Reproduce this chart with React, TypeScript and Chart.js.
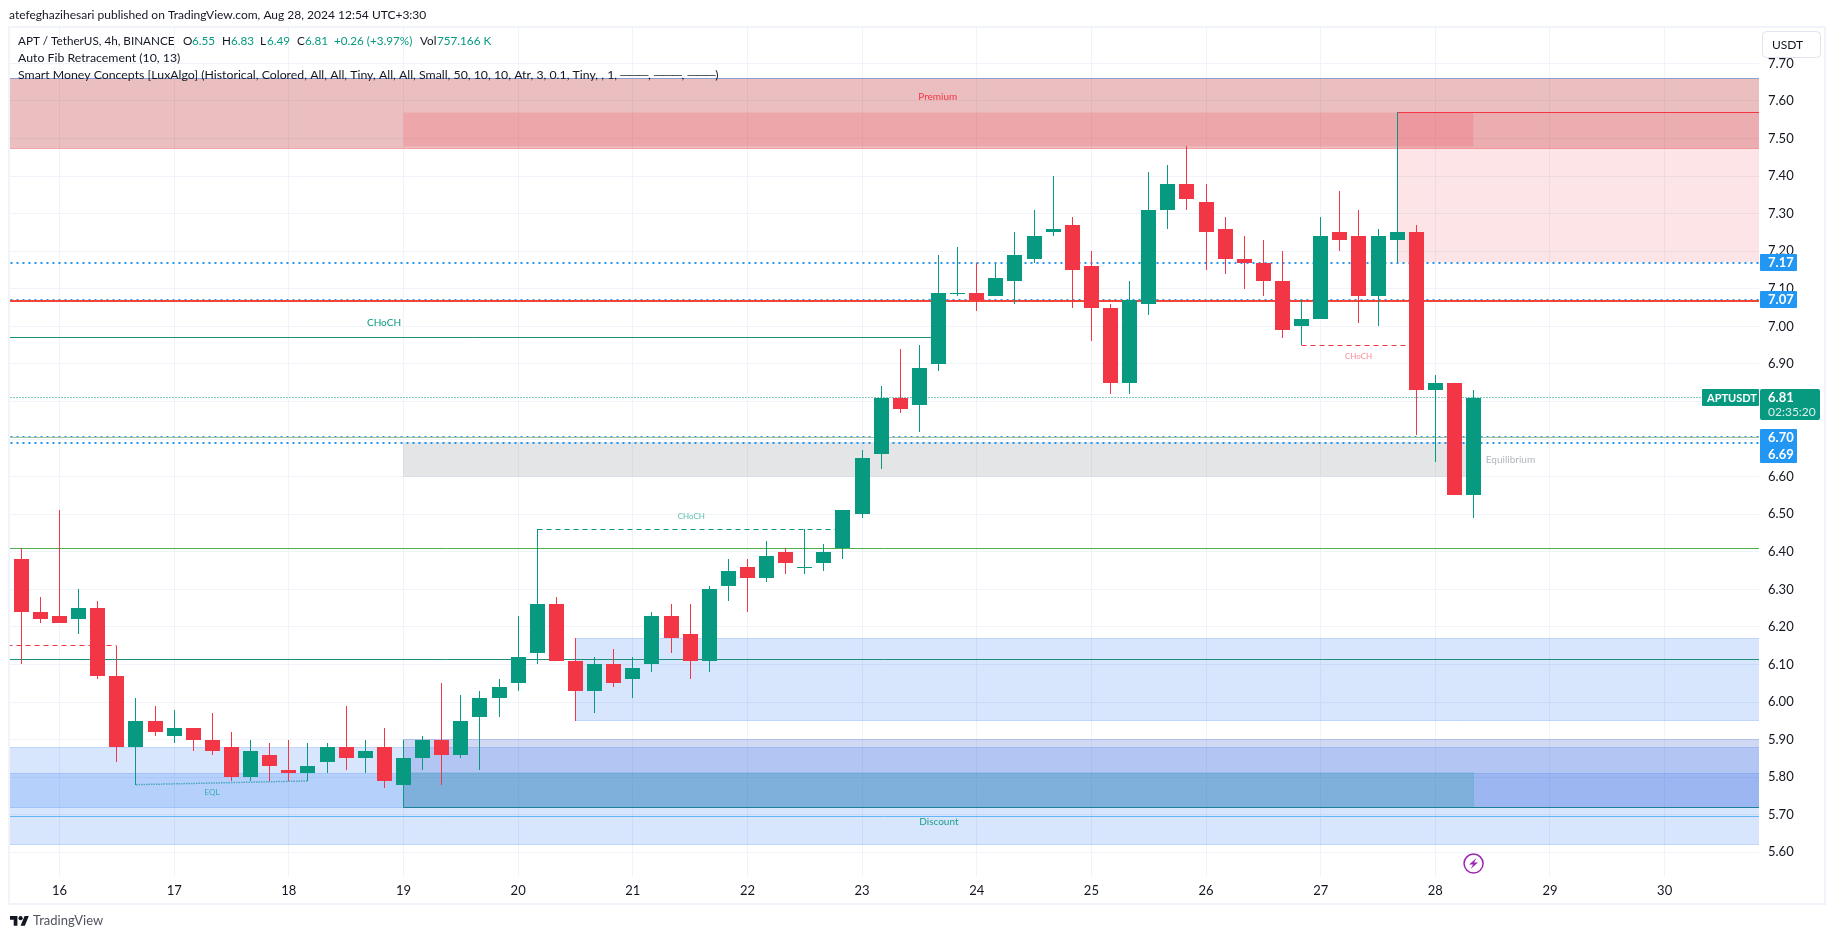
import React, { useEffect, useRef } from "react";
import { Chart, registerables } from "chart.js";

Chart.register(...registerables);

// ---------- data ----------
const candleOpen = [6.38,6.24,6.23,6.22,6.25,6.07,5.88,5.95,5.91,5.93,5.90,5.88,5.80,5.86,5.82,5.81,5.84,5.88,5.85,5.88,5.78,5.85,5.90,5.86,5.96,6.01,6.05,6.13,6.26,6.11,6.03,6.10,6.06,6.10,6.23,6.18,6.11,6.31,6.36,6.33,6.40,6.36,6.37,6.41,6.50,6.66,6.81,6.79,6.90,7.09,7.09,7.08,7.12,7.18,7.25,7.27,7.16,7.05,6.85,7.06,7.31,7.38,7.33,7.26,7.18,7.17,7.12,7.00,7.02,7.25,7.24,7.08,7.23,7.25,6.83,6.85,6.55];
const candleHigh = [6.41,6.28,6.51,6.30,6.27,6.15,6.01,5.99,5.98,5.93,5.97,5.92,5.90,5.89,5.90,5.89,5.89,5.99,5.90,5.93,5.90,5.91,6.05,6.02,6.03,6.06,6.23,6.46,6.28,6.17,6.12,6.14,6.12,6.24,6.26,6.26,6.31,6.38,6.38,6.43,6.41,6.46,6.42,6.51,6.67,6.84,6.94,6.95,7.19,7.21,7.17,7.17,7.25,7.31,7.40,7.29,7.20,7.06,7.12,7.41,7.43,7.48,7.38,7.29,7.24,7.23,7.20,7.07,7.29,7.36,7.31,7.26,7.57,7.27,6.87,6.85,6.83];
const candleLow = [6.10,6.21,6.21,6.18,6.06,5.84,5.78,5.91,5.89,5.87,5.86,5.79,5.79,5.79,5.79,5.79,5.81,5.82,5.81,5.77,5.72,5.82,5.78,5.85,5.82,5.96,6.03,6.10,6.11,5.95,5.97,6.04,6.01,6.08,6.13,6.06,6.08,6.27,6.24,6.32,6.34,6.34,6.35,6.38,6.49,6.62,6.77,6.72,6.88,7.08,7.04,7.08,7.06,7.17,7.24,7.05,6.96,6.82,6.82,7.03,7.26,7.31,7.15,7.14,7.10,7.08,6.97,6.95,7.02,7.20,7.01,7.00,7.17,6.71,6.64,6.55,6.49];
const candleClose = [6.24,6.22,6.21,6.25,6.07,5.88,5.95,5.92,5.93,5.90,5.87,5.80,5.87,5.83,5.81,5.83,5.88,5.85,5.87,5.79,5.85,5.90,5.86,5.95,6.01,6.04,6.12,6.26,6.11,6.03,6.10,6.05,6.09,6.23,6.17,6.11,6.30,6.35,6.33,6.39,6.37,6.36,6.40,6.51,6.65,6.81,6.78,6.89,7.09,7.09,7.07,7.13,7.19,7.24,7.26,7.15,7.05,6.85,7.07,7.31,7.38,7.34,7.25,7.18,7.17,7.12,6.99,7.02,7.24,7.23,7.08,7.24,7.25,6.83,6.85,6.55,6.81];
const candleDown = [1,1,1,0,1,1,0,1,0,1,1,1,0,1,1,0,0,1,0,1,0,0,1,0,0,0,0,0,1,1,0,1,0,0,1,1,0,0,1,0,1,0,0,0,0,0,1,0,0,0,1,0,0,0,0,1,1,1,0,0,0,1,1,1,1,1,1,0,0,1,1,0,0,1,0,1,0];

const dayTicks = [16,17,18,19,20,21,22,23,24,25,26,27,28,29,30];
const priceTicks = [5.6,5.7,5.8,5.9,6.0,6.1,6.2,6.3,6.4,6.5,6.6,6.7,6.8,6.9,7.0,7.1,7.2,7.3,7.4,7.5,7.6,7.7];

const FIRST_CANDLE_DAY = 15 + 2 / 3;
const BARS_PER_DAY = 6;
const dayOfCandle = (i: number) => FIRST_CANDLE_DAY + i / BARS_PER_DAY;
const OFF_LEFT = 15;
const OFF_RIGHT = 32;
const LAST_DAY = dayOfCandle(76);

// zones: [from day, to day, low, high]
const premiumRange = [OFF_LEFT, OFF_RIGHT, 7.473, 7.66];
const premiumBlock = [19, LAST_DAY, 7.478, 7.57];
const supplyBox = [dayOfCandle(72), OFF_RIGHT, 7.17, 7.57];
const equilibriumBlock = [19, LAST_DAY, 6.6, 6.69];
const demandMiddle = [dayOfCandle(29), OFF_RIGHT, 5.95, 6.17];
const demandLowA = [OFF_LEFT, OFF_RIGHT, 5.72, 5.88];
const demandLowB = [OFF_LEFT, OFF_RIGHT, 5.62, 5.81];
const discountBox = [19, OFF_RIGHT, 5.72, 5.90];
const discountBlock = [19, LAST_DAY, 5.72, 5.812];

// levels
const fibTop = 7.66;
const resistanceRed = 7.068;
const fibGreen = 6.41;
const fibTeal = 6.113;
const fibBlue = 5.696;
const fibSage = 6.705;
const dottedLevels = [7.17, 7.07, 6.705, 6.69];
const lastPrice = 6.811;
const chochUp = 6.971;
const chochDashedHigh = 6.46;
const chochDashedLow = 6.95;
const oldDashed = 6.15;
const supplyTop = 7.57;
const discountBottom = 5.72;
const eqlPrices = [5.78, 5.79];

const chartTexts = [
  { text: "Premium", day: 23.66, price: 7.61, color: "#f23645", size: 10, align: "center" },
  { text: "Discount", day: 23.67, price: 5.68, color: "#1fa08c", size: 10, align: "center" },
  { text: "Equilibrium", day: 28.44, price: 6.644, color: "#b2b5be", size: 10, align: "left" },
  { text: "CHoCH", day: 18.83, price: 7.01, color: "#089981", size: 10, align: "center" },
  { text: "CHoCH", day: 21.51, price: 6.493, color: "#5cbfae", size: 8, align: "center" },
  { text: "CHoCH", day: 27.33, price: 6.919, color: "#f98b95", size: 8, align: "center" },
  { text: "EQL", day: 17.33, price: 5.759, color: "#35aeb0", size: 8, align: "center" },
];

const headerText = "atefeghazihesari published on TradingView.com, Aug 28, 2024 12:54 UTC+3:30";
const legendLine1 = [
  { t: "APT / TetherUS, 4h, BINANCE", x: 18, up: false },
  { t: "O", x: 183, up: false }, { t: "6.55", x: 192, up: true },
  { t: "H", x: 222, up: false }, { t: "6.83", x: 231, up: true },
  { t: "L", x: 260, up: false }, { t: "6.49", x: 267, up: true },
  { t: "C", x: 297, up: false }, { t: "6.81", x: 305, up: true },
  { t: "+0.26 (+3.97%)", x: 334, up: true },
  { t: "Vol", x: 420, up: false }, { t: "757.166 K", x: 437, up: true },
];
const legendLine2 = "Auto Fib Retracement (10, 13)";
const legendLine3 = "Smart Money Concepts [LuxAlgo] (Historical, Colored, All, All, Tiny, All, All, Small, 50, 10, 10, Atr, 3, 0.1, Tiny, , 1, ───, ───, ───)";
const timerText = "02:35:20";

const FONT = 'Lato, sans-serif';
const GREEN = "#089981";
const RED = "#f23645";
const BLUE = "#2196f3";
const GRID = "#f0f3fa";
const TEXT = "#131722";

const hLine = (label: string, from: number, to: number, price: number, color: string, width: number, dash: number[] = []) => ({
  type: "line", label, order: 3, clip: 0, data: [{ x: from, y: price }, { x: to, y: price }],
  borderColor: color, borderWidth: width, borderDash: dash, pointRadius: 0, pointHoverRadius: 0, fill: false, tension: 0, snapWidth: width,
});

const zone = (label: string, z: number[], fillColor: string, border: string, order: number) => ({
  type: "line", label, order, clip: 0,
  data: [{ x: z[0], y: z[3] }, { x: z[1], y: z[3] }, { x: z[1], y: z[2] }, { x: z[0], y: z[2] }, { x: z[0], y: z[3] }],
  borderColor: border, borderWidth: 1, backgroundColor: fillColor, fill: "shape", pointRadius: 0, pointHoverRadius: 0, tension: 0, snapWidth: 1,
});

const snapPlugin = {
  id: "snap",
  afterDatasetsUpdate(chart: any) {
    chart.data.datasets.forEach((ds: any, di: number) => {
      const meta = chart.getDatasetMeta(di);
      if (ds.type === "bar") {
        meta.data.forEach((el: any) => {
          el.x = Math.floor(el.x) + 0.5;
          let top = Math.round(Math.min(el.y, el.base));
          let bot = Math.round(Math.max(el.y, el.base));
          if (bot === top) bot = top + 1;
          el.y = top;
          el.base = bot;
        });
      } else if (ds.snapWidth) {
        meta.data.forEach((el: any) => {
          if (ds.snapWidth % 2 === 1) el.y = Math.floor(el.y) + 0.5;
          else el.y = Math.round(el.y);
          el.x = Math.floor(el.x) + 0.5;
        });
      }
    });
  },
};

const roundRect = (ctx: CanvasRenderingContext2D, x: number, y: number, w: number, h: number, r: number) => {
  ctx.beginPath();
  ctx.roundRect(x, y, w, h, r);
};

const overlayPlugin = {
  id: "overlay",
  afterDraw(chart: any) {
    const ctx: CanvasRenderingContext2D = chart.ctx;
    const xs = chart.scales.x;
    const ys = chart.scales.y;
    ctx.save();

    // frame
    ctx.fillStyle = GRID;
    ctx.fillRect(8, 26, 1818, 2);
    ctx.fillRect(8, 26, 2, 879);
    ctx.fillRect(1824, 26, 2, 879);
    ctx.fillRect(8, 903, 1818, 2);

    ctx.textBaseline = "middle";
    ctx.textAlign = "left";

    // header + legend
    ctx.font = `12px ${FONT}`;
    ctx.fillStyle = TEXT;
    ctx.fillText(headerText, 9, 15);
    ctx.font = `11.7px ${FONT}`;
    legendLine1.forEach((p) => {
      ctx.fillStyle = p.up ? GREEN : TEXT;
      ctx.fillText(p.t, p.x, 41);
    });
    ctx.font = `12.3px ${FONT}`;
    ctx.fillStyle = TEXT;
    ctx.fillText(legendLine2, 18, 58.5);
    ctx.fillText(legendLine3, 18, 75.5);

    // texts on the chart
    chartTexts.forEach((t) => {
      ctx.font = `${t.size}px ${FONT}`;
      ctx.fillStyle = t.color;
      ctx.textAlign = t.align as CanvasTextAlign;
      ctx.fillText(t.text, xs.getPixelForValue(t.day), ys.getPixelForValue(t.price));
    });
    ctx.textAlign = "left";

    // currency box
    ctx.fillStyle = "#ffffff";
    roundRect(ctx, 1762.5, 31.5, 58, 26, 4);
    ctx.fill();
    ctx.strokeStyle = "#e0e3eb";
    ctx.lineWidth = 1;
    ctx.stroke();
    ctx.fillStyle = TEXT;
    ctx.font = `12px ${FONT}`;
    ctx.fillText("USDT", 1772, 45);

    // blue price badges
    ctx.fillStyle = BLUE;
    const singleBadges = [7.17, 7.07];
    singleBadges.forEach((v) => {
      const y = ys.getPixelForValue(v);
      roundRect(ctx, 1760, Math.round(y) - 9, 37, 17, 1);
      ctx.fill();
    });
    roundRect(ctx, 1760, 429, 37, 34, 1);
    ctx.fill();
    ctx.fillStyle = "#ffffff";
    ctx.font = `bold 13px ${FONT}`;
    singleBadges.forEach((v) => {
      ctx.fillText(v.toFixed(2), 1768, Math.round(ys.getPixelForValue(v)));
    });
    ctx.fillText("6.70", 1768, 438);
    ctx.fillText("6.69", 1768, 455);

    // last price
    ctx.fillStyle = GREEN;
    roundRect(ctx, 1702, 389, 57, 17, 1);
    ctx.fill();
    roundRect(ctx, 1760, 389, 60, 31, 2);
    ctx.fill();
    ctx.fillStyle = "#ffffff";
    ctx.font = `bold 11px ${FONT}`;
    ctx.fillText("APTUSDT", 1707, 398);
    ctx.font = `bold 13px ${FONT}`;
    ctx.fillText("6.81", 1768, 398);
    ctx.font = `12px ${FONT}`;
    ctx.fillStyle = "rgba(255,255,255,0.85)";
    ctx.fillText(timerText, 1768, 412);

    // purple mark under the last candle
    const cx = xs.getPixelForValue(LAST_DAY);
    const cy = ys.getPixelForValue(5.57);
    ctx.strokeStyle = "#9c27b0";
    ctx.lineWidth = 1.5;
    ctx.beginPath();
    ctx.arc(cx, cy, 9.5, 0, Math.PI * 2);
    ctx.stroke();
    ctx.fillStyle = "#9c27b0";
    ctx.beginPath();
    ctx.moveTo(cx + 3, cy - 5.5);
    ctx.lineTo(cx - 4.5, cy + 1);
    ctx.lineTo(cx - 0.5, cy + 1);
    ctx.lineTo(cx - 3, cy + 5.5);
    ctx.lineTo(cx + 4.5, cy - 1);
    ctx.lineTo(cx + 0.5, cy - 1);
    ctx.closePath();
    ctx.fill();

    // logo
    ctx.save();
    ctx.translate(10, 914);
    ctx.scale(0.53, 0.53);
    ctx.fillStyle = TEXT;
    ctx.fill(new Path2D("M14 22H7V11H0V4h14v18zM28 22h-8l7.5-18h8L28 22z"));
    ctx.beginPath();
    ctx.arc(20, 8, 4, 0, Math.PI * 2);
    ctx.fill();
    ctx.restore();
    ctx.fillStyle = "#50535e";
    ctx.font = `13px ${FONT}`;
    ctx.fillText("TradingView", 33, 921);

    ctx.restore();
  },
};

export default function App() {
  const ref = useRef<HTMLCanvasElement>(null);

  useEffect(() => {
    if (!ref.current) return;
    document.body.style.margin = "0";
    document.body.style.background = "#ffffff";

    const candleColors = candleDown.map((d) => (d ? RED : GREEN));
    const days = candleOpen.map((_, i) => dayOfCandle(i));

    const datasets: any[] = [
      {
        type: "bar", label: "Candle bodies", order: 0, grouped: false, barThickness: 15, inflateAmount: 0, borderWidth: 0,
        data: days.map((x, i) => ({ x, y: [candleOpen[i], candleClose[i]] })),
        backgroundColor: candleColors,
      },
      {
        type: "bar", label: "Candle wicks", order: 1, grouped: false, barThickness: 1, inflateAmount: 0, borderWidth: 0,
        data: days.map((x, i) => ({ x, y: [candleLow[i], candleHigh[i]] })),
        backgroundColor: candleColors,
      },
      hLine("Fib top", OFF_LEFT, OFF_RIGHT, fibTop, "#8a9fd0", 1),
      hLine("Fib blue", OFF_LEFT, OFF_RIGHT, fibBlue, "#64b5f6", 1),
      hLine("Fib green", OFF_LEFT, OFF_RIGHT, fibGreen, "#4caf50", 1),
      hLine("Fib teal", OFF_LEFT, OFF_RIGHT, fibTeal, "#1b8f79", 1),
      hLine("Fib sage", OFF_LEFT, OFF_RIGHT, fibSage, "#9fc29a", 1),
      hLine("Red level", OFF_LEFT, OFF_RIGHT, resistanceRed, "#f44336", 2),
      ...dottedLevels.map((v) => ({ ...hLine(`Dotted ${v}`, OFF_LEFT, OFF_RIGHT, v, BLUE, 2, [2, 4]), order: 4 })),
      hLine("Last price", OFF_LEFT, OFF_RIGHT, lastPrice, GREEN, 1, [1, 2]),
      hLine("CHoCH solid", OFF_LEFT, dayOfCandle(48), chochUp, "#1b8f79", 1),
      hLine("CHoCH dashed up", dayOfCandle(27), dayOfCandle(43), chochDashedHigh, GREEN, 1, [5, 4]),
      hLine("CHoCH dashed down", dayOfCandle(67), dayOfCandle(73), chochDashedLow, RED, 1, [5, 4]),
      hLine("Old dashed", OFF_LEFT, dayOfCandle(5), oldDashed, RED, 1, [5, 4]),
      hLine("Supply top", dayOfCandle(72), OFF_RIGHT, supplyTop, RED, 1),
      hLine("Discount bottom", 19, OFF_RIGHT, discountBottom, "#1b7f9a", 1),
      {
        type: "line", label: "EQL", order: 3, clip: 0, borderColor: "#4aa7bd", borderWidth: 1.5, borderDash: [1.5, 1], pointRadius: 0, fill: false,
        data: [{ x: dayOfCandle(6), y: eqlPrices[0] }, { x: dayOfCandle(15), y: eqlPrices[1] }],
      },
      zone("Premium block", premiumBlock, "rgba(242,54,69,0.17)", "rgba(242,54,69,0)", 5),
      zone("Supply box", supplyBox, "rgba(242,54,69,0.13)", "rgba(242,54,69,0)", 6),
      zone("Premium range", premiumRange, "rgba(190,45,50,0.31)", "rgba(242,54,69,0.35)", 7),
      zone("Equilibrium", equilibriumBlock, "rgba(120,123,134,0.2)", "rgba(120,123,134,0.08)", 7),
      zone("Discount block", discountBlock, "rgba(8,153,129,0.2)", "rgba(8,153,129,0.05)", 5),
      zone("Discount box", discountBox, "rgba(80,110,210,0.27)", "rgba(80,110,210,0.3)", 6),
      zone("Demand middle", demandMiddle, "rgba(33,110,245,0.18)", "rgba(33,110,245,0.22)", 7),
      zone("Demand low A", demandLowA, "rgba(33,110,245,0.18)", "rgba(33,110,245,0.22)", 7),
      zone("Demand low B", demandLowB, "rgba(33,110,245,0.18)", "rgba(33,110,245,0.22)", 8),
    ];

    const chart = new Chart(ref.current, {
      type: "bar",
      data: { datasets },
      plugins: [snapPlugin, overlayPlugin],
      options: {
        responsive: false,
        animation: false,
        events: [],
        layout: { padding: { left: 10, top: 28, right: 11, bottom: 36 } },
        plugins: { legend: { display: false }, tooltip: { enabled: false }, title: { display: false } },
        scales: {
          x: {
            type: "linear",
            offset: false,
            min: 15.568,
            max: 30.823,
            grid: { color: GRID, offset: false, drawTicks: false, lineWidth: 1 },
            border: { display: false },
            afterBuildTicks: (s: any) => { s.ticks = dayTicks.map((value) => ({ value })); },
            afterFit: (s: any) => { s.height = 27; },
            ticks: { autoSkip: false, maxRotation: 0, padding: 7, color: TEXT, font: { family: FONT, size: 13 }, callback: (v: any) => String(v) },
          },
          y: {
            type: "linear",
            position: "right",
            min: 5.5369,
            max: 7.7943,
            grid: { color: GRID, drawTicks: false, lineWidth: 1 },
            border: { display: false },
            afterBuildTicks: (s: any) => { s.ticks = priceTicks.map((value) => ({ value })); },
            afterFit: (s: any) => { s.width = 65; },
            ticks: { autoSkip: false, crossAlign: "near", padding: 9, color: TEXT, font: { family: FONT, size: 13 }, callback: (v: any) => Number(v).toFixed(2) },
          },
        },
      } as any,
    } as any);

    return () => chart.destroy();
  }, []);

  return (
    <div style={{ position: "fixed", left: 0, top: 0, width: 1835, height: 939, background: "#ffffff" }}>
      <canvas ref={ref} width={1835} height={939} style={{ display: "block", width: 1835, height: 939 }} />
    </div>
  );
}
